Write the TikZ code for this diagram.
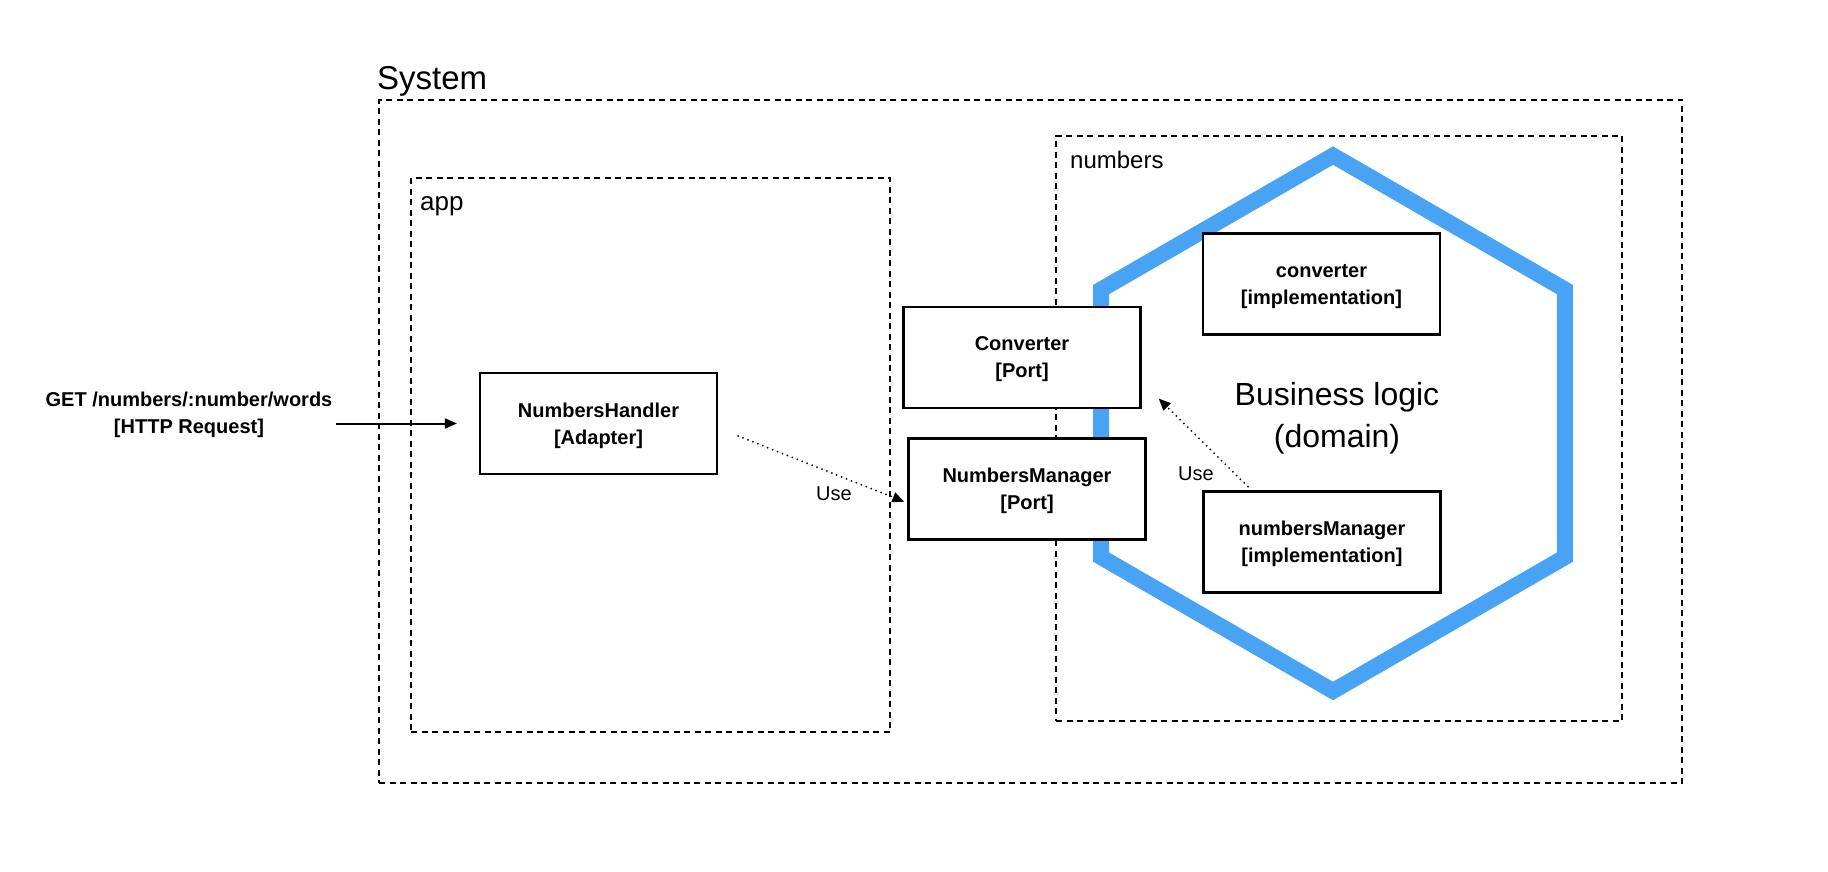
\documentclass[tikz,border=0pt]{standalone}
\usepackage{fontspec}
\setmainfont{Liberation Sans}
\usetikzlibrary{arrows.meta}
\definecolor{hexblue}{RGB}{73,163,245}

\begin{document}
\begin{tikzpicture}[x=1pt,y=-1pt,
  group/.style={draw,line width=1.1pt,dash pattern=on 6pt off 4.5pt,inner sep=0pt},
  label/.style={anchor=base west,inner sep=0pt},
  comp/.style={draw,fill=white,line width=2.2pt,minimum width=237pt,minimum height=101pt,
    align=center,text depth=0pt,font=\fontsize{20}{27}\selectfont\bfseries},
  flow/.style={-{Triangle[length=12pt,width=10pt]},line width=2pt},
  use/.style={-{Triangle[length=12pt,width=10pt]},line width=2pt,line cap=round,dash pattern=on 0pt off 5.3pt}]
\useasboundingbox (0,0) rectangle (1828,872);

\node[group,minimum width=1303pt,minimum height=683pt] (system) at (1030.5,441.5) {};
\node[group,minimum width=479pt,minimum height=554pt] (app) at (650.5,455) {};
\node[group,minimum width=566pt,minimum height=585pt] (numbers) at (1339,428.5) {};
\node[label,font=\fontsize{33}{40}\selectfont] (systemlbl) at (377,90) {System};
\node[label,font=\fontsize{26}{30}\selectfont] (applbl) at (420,210) {app};
\node[label,font=\fontsize{24}{30}\selectfont] (numberslbl) at (1070,168) {numbers};

\draw[hexblue,line width=16pt] (1333,155.6) -- (1564.8,289.5) -- (1564.8,557.2)
  -- (1333,691) -- (1101.2,557.2) -- (1101.2,289.5) -- cycle;
\node[align=center,text depth=0pt,font=\fontsize{32}{42}\selectfont] (domain) at (1337,415) {Business logic\\(domain)};

\node[align=center,text depth=0pt,font=\fontsize{20}{27}\selectfont\bfseries] (request) at (189,413) {GET /numbers/:number/words\\{}[HTTP Request]};
\node[comp] (handler) at (598.5,423.5) {NumbersHandler\\{}[Adapter]};
\node[comp] (convport) at (1022,357.5) {Converter\\{}[Port]};
\node[comp] (mgrport) at (1027,489) {NumbersManager\\{}[Port]};
\node[comp] (convimpl) at (1321.5,284) {converter\\{}[implementation]};
\node[comp] (mgrimpl) at (1322,542) {numbersManager\\{}[implementation]};

\node[font=\fontsize{20}{24}\selectfont] (use1) at (834,494) {Use};
\node[font=\fontsize{20}{24}\selectfont] (use2) at (1196,474) {Use};

\path[flow] (request.east |- handler.west) edge[shorten >=22pt] (handler.west);
\path[use]
([xshift=20pt,yshift=-12.5pt]handler.east) edge ([xshift=-3pt,yshift=-12.7pt]mgrport.west)
([xshift=-74pt,yshift=3.7pt]mgrimpl.north) edge ([xshift=17pt,yshift=-41pt]convport.east);
\end{tikzpicture}
\end{document}
